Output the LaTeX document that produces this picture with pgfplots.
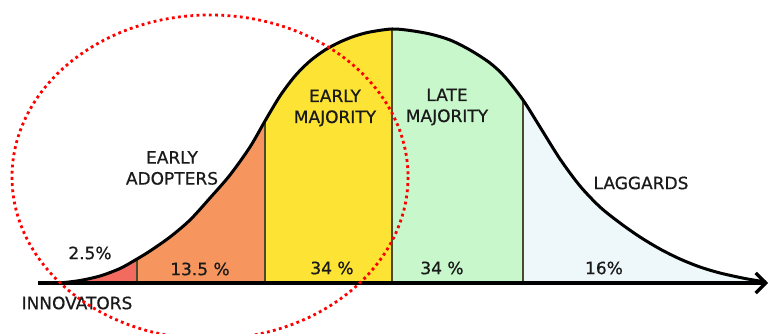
\documentclass[border=0pt]{standalone}
\usepackage{pgfplots}
\pgfplotsset{compat=1.18}
\usepackage{pgfplotstable}
\usepgfplotslibrary{fillbetween}
\usetikzlibrary{arrows.meta}
\usepackage{fontspec}
\setmainfont{DejaVu Sans}
\newfontfamily\hand[FakeBold=0.7]{DejaVu Sans}
\definecolor{innov}{HTML}{F26B5E}
\definecolor{adopt}{HTML}{F7955E}
\definecolor{emaj}{HTML}{FDE333}
\definecolor{lmaj}{HTML}{C8F7CC}
\definecolor{lagg}{HTML}{EEF8FB}
\definecolor{sep}{HTML}{4A4A30}
\definecolor{txt}{HTML}{1A1A1A}

\pgfplotstableread{
x y
60 283
80 280.5
100 276
120 268.5
137 259
150 251
170 237
190 220
210 198
230 175
250 147
265 121
280 96
295 76
310 61
325 50
340 42
355 36
370 32
392 29
410 30.5
430 34
450 40
470 50
490 63
505 77
523 100
540 127
560 159
580 186
600 207
620 223
640 237
660 249
680 259
700 267
720 273
745 278.5
766 282
}\curvedata

\begin{document}
\begin{tikzpicture}
\begin{axis}[
  width=385.5pt, height=166.5pt, scale only axis, hide axis,
  xmin=0, xmax=771, ymin=0, ymax=333, y dir=reverse, clip=true]
\addplot[name path=curve, draw=none, smooth] table {\curvedata};
\addplot[name path=base, draw=none] coordinates {(38,283) (770,283)};
\addplot[fill=innov, draw=none] fill between[of=curve and base, soft clip={domain=60:137}];
\addplot[fill=adopt, draw=none] fill between[of=curve and base, soft clip={domain=137:265}];
\addplot[fill=emaj, draw=none] fill between[of=curve and base, soft clip={domain=265:392}];
\addplot[fill=lmaj, draw=none] fill between[of=curve and base, soft clip={domain=392:523}];
\addplot[fill=lagg, draw=none] fill between[of=curve and base, soft clip={domain=523:766}];
\addplot[sep, line width=0.6pt] coordinates {(137,259) (137,283)};
\addplot[sep, line width=0.6pt] coordinates {(265,121) (265,283)};
\addplot[sep, line width=0.6pt] coordinates {(392,29) (392,283)};
\addplot[sep, line width=0.6pt] coordinates {(523,100) (523,283)};
\addplot[black, line width=1.5pt, smooth] table {\curvedata};
\addplot[black, line width=2pt, -{Straight Barb[length=5pt,width=10pt,line width=1.6pt]}] coordinates {(38,283) (768,283)};

\begin{scope}[every node/.style={text=txt, font=\hand\fontsize{8.5}{10.5}\selectfont, align=center}]
\node at (axis cs:77,303) {INNOVATORS};
\node at (axis cs:90,253) {2.5\%};
\node at (axis cs:172,168) {EARLY\\ADOPTERS};
\node at (axis cs:200,269) {13.5 \%};
\node at (axis cs:335,108) {EARLY\\MAJORITY};
\node at (axis cs:332,268) {34 \%};
\node at (axis cs:447,107) {LATE\\MAJORITY};
\node at (axis cs:442,268) {34 \%};
\node at (axis cs:641,183) {LAGGARDS};
\node at (axis cs:604,268) {16\%};
\end{scope}

\draw[red, line width=1.4pt, dash pattern=on 1.4pt off 1.7pt] (axis cs:210,177) ellipse [x radius=198, y radius=162];
\end{axis}
\pgfresetboundingbox
\useasboundingbox (current axis.south west) rectangle (current axis.north east);
\end{tikzpicture}
\end{document}
